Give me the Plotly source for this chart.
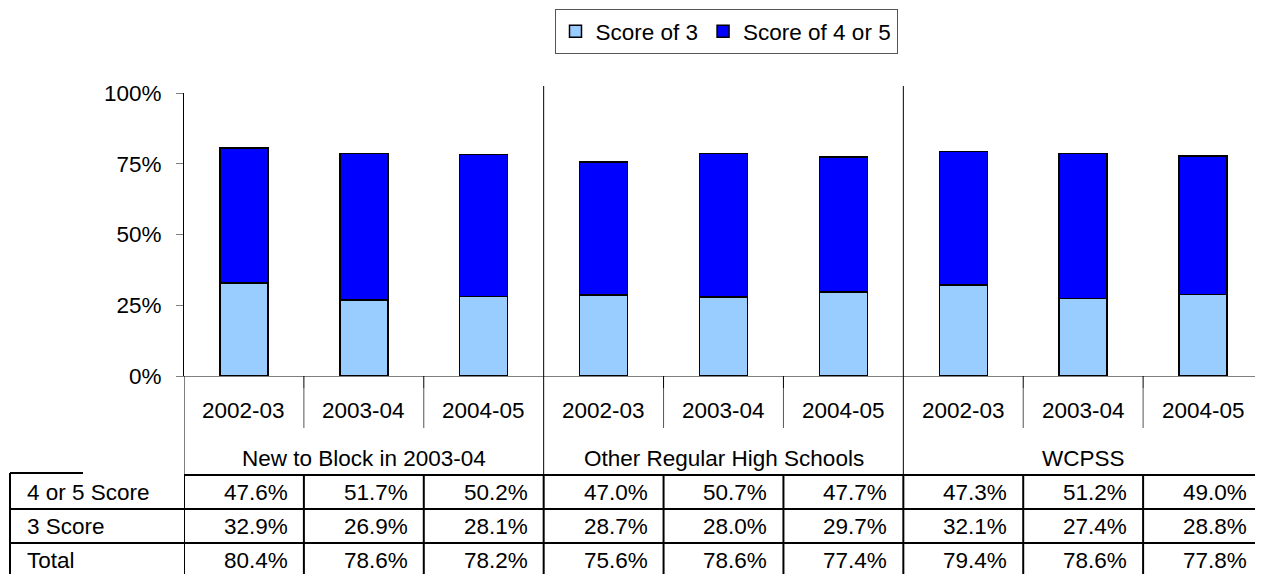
import plotly.graph_objects as go

groups = ["New to Block in 2003-04", "Other Regular High Schools", "WCPSS"]
years = ["2002-03", "2003-04", "2004-05"]
score_45 = [47.6, 51.7, 50.2, 47.0, 50.7, 47.7, 47.3, 51.2, 49.0]
score_3 = [32.9, 26.9, 28.1, 28.7, 28.0, 29.7, 32.1, 27.4, 28.8]
total = [80.4, 78.6, 78.2, 75.6, 78.6, 77.4, 79.4, 78.6, 77.8]
row_labels = ["4 or 5 Score", "3 Score", "Total"]

FONT = "Liberation Sans, Arial, sans-serif"
FS = 22.5

# the page adds an 8px body margin, so the figure is laid out in
# page pixels and shifted back by OX/OY
OX, OY = 8, 10
W, H = 1263 - 2 * 8, 582 - 2 * 8
L, T, R, B = 184, 95, 1255, 378  # plot area, page pixels
CAT_W = (1263 - 184) / 9         # width of one category in pixels
ROW_H = 34


def px(x):
    return (x - L) / (R - L)


def py(y):
    return (B - y) / (B - T)


n = len(score_3)
pos = list(range(n))
outline = dict(color="black", width=1.5)

fig = go.Figure()
fig.add_trace(go.Bar(x=pos, y=[v / 100 for v in score_3], name="Score of 3", width=0.4,
                     marker=dict(color="#99CCFF", line=outline)))
fig.add_trace(go.Bar(x=pos, y=[v / 100 for v in score_45], name="Score of 4 or 5", width=0.4,
                     marker=dict(color="#0000FF", line=outline)))

shapes = []


def line(x0, y0, x1, y1, xref="x", color="black", width=1):
    shapes.append(dict(type="line", xref=xref, yref="paper", x0=x0, x1=x1, y0=py(y0), y1=py(y1),
                       line=dict(color=color, width=width)))


# separators under the axis
for i in range(n - 1):
    b = i + 0.5
    if (i + 1) % 3 == 0:
        line(b, 88, b, 477)
    else:
        line(b, 378, b, 390, color="black")
        line(b, 390, b, 430, color="#555555")
line(-0.5, 378, -0.5, 477)

# table grid
row_top = [477 + k * ROW_H for k in range(3)]
line(0, 477, 1.05, 477, xref="paper", width=2)
line(px(10), 475, px(83), 475, xref="paper", width=2)
for yy in row_top[1:]:
    line(px(10), yy, 1.05, yy, xref="paper", width=2)
line(px(10), 475, px(10), 600, xref="paper", width=2)
for i in range(n):
    line(i - 0.5, 477, i - 0.5, 600, width=2)

annotations = []


def note(x, y, text, xref="x", xanchor="center", xshift=0):
    annotations.append(dict(x=x, y=py(y), xref=xref, yref="paper", text=text, showarrow=False,
                            xanchor=xanchor, yanchor="middle", xshift=xshift,
                            font=dict(family=FONT, size=FS, color="black")))


for i in range(n):
    note(i, 412, years[i % 3])
for g, name in enumerate(groups):
    note(3 * g + 1, 460, name)

rows = [score_45, score_3, total]
for label, vals, yy in zip(row_labels, rows, row_top):
    yc = yy + ROW_H / 2
    note(px(25), yc, label, xref="paper", xanchor="left")
    for i, v in enumerate(vals):
        note(i, yc, f"{v:.1f}%", xanchor="right", xshift=CAT_W / 2 - 14)

fig.update_layout(
    barmode="stack",
    width=W, height=H, autosize=False,
    margin=dict(l=L - OX, r=0, t=T - OY, b=H - (B - OY), pad=0),
    paper_bgcolor="white", plot_bgcolor="white",
    font=dict(family=FONT, size=FS, color="black"),
    shapes=shapes, annotations=annotations,
    showlegend=True,
    legend=dict(orientation="h", x=px(726), y=py(11), xanchor="center", yanchor="top",
                bordercolor="#555555", borderwidth=1, bgcolor="white", traceorder="normal",
                font=dict(family=FONT, size=FS)),
    xaxis=dict(range=[-0.5, -0.5 + (R - L) / CAT_W], showticklabels=False, ticks="",
               showgrid=False, zeroline=False, showline=True, linecolor="#808080", linewidth=1),
    yaxis=dict(range=[0, 1], tickvals=[0, 0.25, 0.5, 0.75, 1], tickformat=".0%",
               ticks="outside", ticklen=7, tickcolor="#808080", showgrid=False, zeroline=False,
               showline=True, linecolor="black", linewidth=1, ticklabelstandoff=10,
               tickfont=dict(family=FONT, size=FS)),
)

fig.write_html("out.html")
